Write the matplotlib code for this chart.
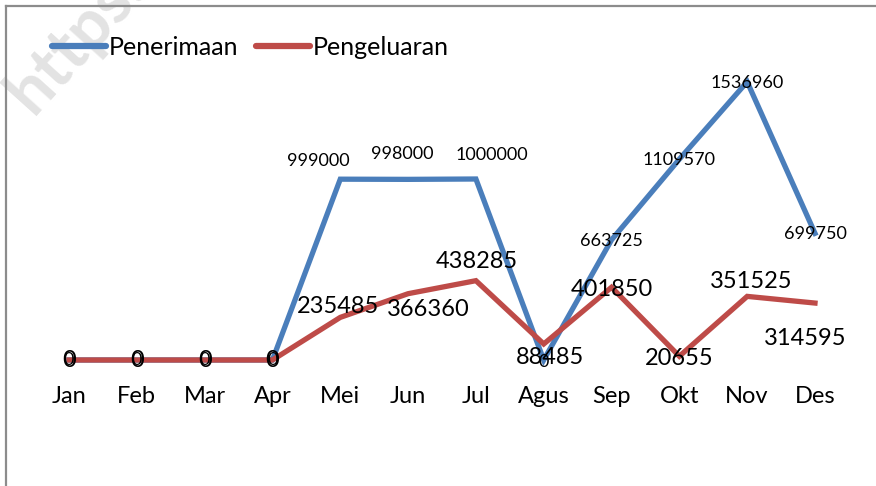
import matplotlib
matplotlib.use("Agg")
import matplotlib.pyplot as plt
from matplotlib.lines import Line2D

months = ["Jan", "Feb", "Mar", "Apr", "Mei", "Jun", "Jul", "Agus", "Sep", "Okt", "Nov", "Des"]
penerimaan = [0, 0, 0, 0, 999000, 998000, 1000000, 0, 663725, 1109570, 1536960, 699750]
pengeluaran = [0, 0, 0, 0, 235485, 366360, 438285, 88485, 401850, 20655, 351525, 314595]

# label offsets in pixels (dx, dy) – layout only
blue_off = [(0, 0), (0, 0), (0, 0), (0, 0), (-22, 18), (-6, 25), (16, 24), (0, -2),
            (0, -1), (0, -1), (0, -1), (0, -1)]
red_off = [(0, 0), (0, 0), (0, 0), (0, 0), (-2, 11), (20, -16), (1, 19), (6, -14),
           (0, -2), (0, -2), (4, 15), (-10, -35)]

BLUE = "#4A7EBB"
RED = "#BE4B48"
FONT = ["Lato", "DejaVu Sans"]
plt.rcParams["font.family"] = FONT

W, H = 876, 486
fig = plt.figure(figsize=(W / 100, H / 100), dpi=100)
fig.patch.set_facecolor("white")

# watermark
fig.text(33 / W, 1 - 116 / H, "https://", rotation=48, fontsize=48, fontweight="bold",
         color="#e3e3e3", ha="left", va="baseline", rotation_mode="anchor", zorder=0)

# axes placed so x 0..11 spans pixels 69..815 and y 0..1e6 spans 360..179
x0, x1 = 69, 815
y0, y1 = 360, 179
ax = fig.add_axes([x0 / W, (H - y0) / H, (x1 - x0) / W, (y0 - y1) / H])
ax.set_xlim(0, 11)
ax.set_ylim(0, 1000000)
for s in ax.spines.values():
    s.set_visible(False)
ax.set_yticks([])
xs = list(range(len(months)))
ax.set_xticks(xs)
ax.set_xticklabels(months, fontsize=17)
ax.tick_params(axis="x", length=0, pad=18.5)
ax.patch.set_alpha(0)

ax.plot(xs, penerimaan, color=BLUE, lw=3.8, solid_joinstyle="miter", clip_on=False, zorder=2,
        label="Penerimaan")
ax.plot(xs, pengeluaran, color=RED, lw=3.8, solid_joinstyle="miter", clip_on=False, zorder=3,
        label="Pengeluaran")

for i, v in enumerate(penerimaan):
    dx, dy = blue_off[i]
    ax.annotate(str(v), (i, v), xytext=(dx * 0.72, dy * 0.72), textcoords="offset points",
                ha="center", va="center", fontsize=13, color="black", zorder=5,
                annotation_clip=False)
for i, v in enumerate(pengeluaran):
    dx, dy = red_off[i]
    ax.annotate(str(v), (i, v), xytext=(dx * 0.72, dy * 0.72), textcoords="offset points",
                ha="center", va="center", fontsize=17, color="black", zorder=6,
                annotation_clip=False)

leg = fig.legend(handles=[Line2D([], [], color=BLUE, lw=4.5, solid_capstyle="round"),
                          Line2D([], [], color=RED, lw=4.5, solid_capstyle="round")],
                 labels=["Penerimaan", "Pengeluaran"], loc="center left",
                 bbox_to_anchor=(52 / W, 1 - 47 / H), ncol=2, frameon=False,
                 fontsize=18, handlelength=2.15, handletextpad=0.12, columnspacing=0.7,
                 borderpad=0, borderaxespad=0)

# frame border (left and top)
fig.add_artist(Line2D([6 / W, 6 / W], [0, 1 - 6 / H], color="#8c8c8c", lw=1.6,
                      transform=fig.transFigure))
fig.add_artist(Line2D([6 / W, 1], [1 - 6 / H, 1 - 6 / H], color="#8c8c8c", lw=1.6,
                      transform=fig.transFigure))

fig.savefig("out.png", dpi=100, facecolor="white")
